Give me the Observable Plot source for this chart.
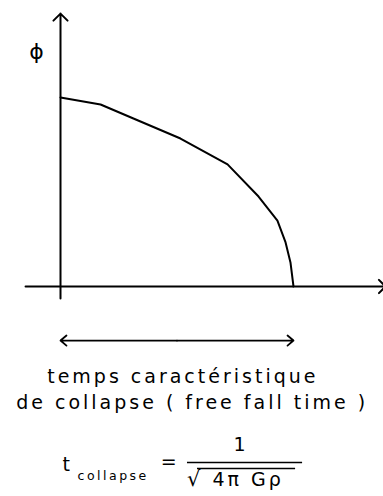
<!DOCTYPE html>
<html>
<head>
<meta charset="utf-8">
<script src="https://cdn.jsdelivr.net/npm/d3@7"></script>
<script src="https://cdn.jsdelivr.net/npm/@observablehq/plot@0.6"></script>
<style>
  html, body { margin: 0; padding: 0; background: #fff; }
</style>
</head>
<body>
<div id="chart"></div>
<script>
// Normalised time (0 = start, 1 = collapse) and potential phi (1 = initial)
const time = [0, 0.172, 0.313, 0.515, 0.717, 0.850, 0.931, 0.966, 0.987, 1.0];
const phi  = [1.0, 0.963, 0.889, 0.783, 0.646, 0.476, 0.349, 0.233, 0.127, 0];

// Free-fall span shown under the axis
const fallSpan = [0, 1];

// Texts
const yLabel = "ϕ";
const captionLines = ["temps caractéristique", "de collapse ( free fall time )"];
const tSymbol = "t";
const tSubscript = "collapse";
const numerator = "1";
const denominator = "4π Gρ";

const curve = time.map((t, i) => ({t, phi: phi[i]}));
const mid = (fallSpan[0] + fallSpan[1]) / 2;
const spanArrows = fallSpan.map(t => ({from: mid, to: t}));

const black = "#000";

const chart = Plot.plot({
  width: 383,
  height: 496,
  margin: 0,
  x: {domain: [0, 1], range: [60, 293], axis: null},
  y: {domain: [0, 1], range: [286, 97], axis: null},
  style: {fontFamily: "'DejaVu Sans', sans-serif", background: "#fff", color: black},
  marks: [
    // x axis with arrow
    Plot.arrow([0], {x1: -0.15, x2: 1.395, y1: 0, y2: 0, stroke: black, strokeWidth: 2, headAngle: 90, headLength: 7, bend: 0}),
    // y axis with arrow
    Plot.arrow([0], {x1: 0, x2: 0, y1: -0.063, y2: 1.444, stroke: black, strokeWidth: 2, headAngle: 90, headLength: 7.5, bend: 0}),
    // phi(t) curve
    Plot.line(curve, {x: "t", y: "phi", stroke: black, strokeWidth: 2}),
    // double arrow for free fall time
    Plot.arrow(spanArrows, {x1: "from", x2: "to", y1: -0.286, y2: -0.286, stroke: black, strokeWidth: 1.8, headAngle: 80, headLength: 6.5, bend: 0}),
    // axis label
    Plot.text([yLabel], {x: -0.103, y: 1.243, text: d => d, fontSize: 22, fill: black}),
    // caption lines
    Plot.text(captionLines, {x: [0.525, 0.565], y: [-0.508, -0.646], text: d => d, fontSize: 19, lineAnchor: "bottom", fill: black, ariaDescription: "caption"}),
    // formula
    Plot.text([tSymbol], {x: 0.0086, y: -0.974, text: d => d, fontSize: 19, textAnchor: "start", lineAnchor: "bottom", fill: black}),
    Plot.text([tSubscript], {x: 0.073, y: -1.026, text: d => d, fontSize: 12.5, textAnchor: "start", lineAnchor: "bottom", fill: black, ariaDescription: "sub"}),
    Plot.text(["="], {x: 0.464, y: -0.958, text: d => d, fontSize: 19, lineAnchor: "bottom", fill: black}),
    Plot.text([numerator], {x: 0.768, y: -0.868, text: d => d, fontSize: 19, lineAnchor: "bottom", fill: black}),
    Plot.ruleY([-0.931], {x1: 0.545, x2: 1.039, stroke: black, strokeWidth: 1.5}),
    Plot.ruleY([-0.963], {x1: 0.588, x2: 1.009, stroke: black, strokeWidth: 1.3}),
    Plot.text(["√"], {x: 0.600, y: -1.058, text: d => d, fontSize: 21, textAnchor: "end", lineAnchor: "bottom", fill: black}),
    Plot.text([denominator], {x: 0.652, y: -1.053, text: d => d, fontSize: 19, textAnchor: "start", lineAnchor: "bottom", fill: black, ariaDescription: "denom"})
  ]
});

d3.select(chart).selectAll('g[aria-description="caption"] text').style("letter-spacing", "3px");
d3.select(chart).selectAll('g[aria-description="sub"] text').style("letter-spacing", "2.5px");
d3.select(chart).selectAll('g[aria-description="denom"] text').style("letter-spacing", "3px");

document.getElementById("chart").appendChild(chart);
</script>
</body>
</html>
